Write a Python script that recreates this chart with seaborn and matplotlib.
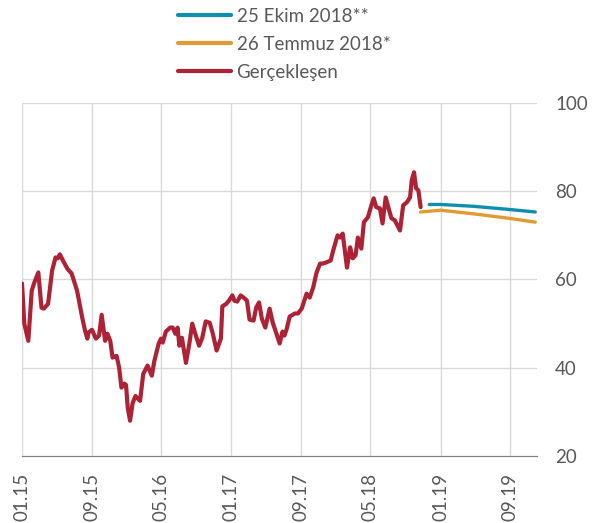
import pandas as pd
import numpy as np
import matplotlib
matplotlib.use('Agg')
import matplotlib.pyplot as plt
import matplotlib.dates as mdates
import seaborn as sns

# Realized (Gerçekleşen)
real_dates = ['2015-01-01', '2015-01-09', '2015-01-23', '2015-02-04', '2015-02-13', '2015-02-27',
              '2015-03-10', '2015-03-18', '2015-04-02', '2015-04-16', '2015-04-28', '2015-05-06',
              '2015-05-13', '2015-05-27', '2015-06-08', '2015-06-14', '2015-06-23', '2015-07-12',
              '2015-07-30', '2015-08-09', '2015-08-17', '2015-08-21', '2015-09-02', '2015-09-16',
              '2015-09-27', '2015-10-06', '2015-10-18', '2015-10-26', '2015-11-05', '2015-11-13',
              '2015-11-27', '2015-12-06', '2015-12-14', '2015-12-24', '2015-12-30', '2016-01-05',
              '2016-01-13', '2016-01-22', '2016-02-01', '2016-02-09', '2016-02-17', '2016-02-28',
              '2016-03-14', '2016-03-29', '2016-04-07', '2016-04-22', '2016-04-30', '2016-05-06',
              '2016-05-17', '2016-06-01', '2016-06-10', '2016-06-19', '2016-06-27', '2016-07-03',
              '2016-07-12', '2016-07-26', '2016-08-07', '2016-08-17', '2016-09-01', '2016-09-10',
              '2016-09-21', '2016-10-03', '2016-10-17', '2016-10-28', '2016-11-10', '2016-11-25',
              '2016-11-30', '2016-12-14', '2016-12-23', '2017-01-04', '2017-01-11', '2017-01-21',
              '2017-02-02', '2017-02-16', '2017-02-24', '2017-03-05', '2017-03-19', '2017-03-28',
              '2017-04-07', '2017-04-17', '2017-04-29', '2017-05-14', '2017-05-25', '2017-06-07',
              '2017-06-18', '2017-06-28', '2017-07-05', '2017-07-13', '2017-07-23', '2017-08-10',
              '2017-08-21', '2017-09-03', '2017-09-20', '2017-10-01', '2017-10-13', '2017-10-25',
              '2017-11-06', '2017-11-15', '2017-11-29', '2017-12-13', '2017-12-22', '2018-01-06',
              '2018-01-15', '2018-01-24', '2018-02-08', '2018-02-19', '2018-02-28', '2018-03-10',
              '2018-03-18', '2018-03-30', '2018-04-08', '2018-04-22', '2018-05-04', '2018-05-12',
              '2018-05-21', '2018-06-03', '2018-06-12', '2018-06-23', '2018-07-05', '2018-07-13',
              '2018-07-25', '2018-08-12', '2018-08-23', '2018-09-05', '2018-09-16', '2018-09-22',
              '2018-09-30', '2018-10-07', '2018-10-15', '2018-10-23']
real_values = [59.1, 50.0, 46.1, 57.5, 59.3, 61.6,
               53.6, 53.4, 54.5, 62.0, 65.0, 64.8,
               65.7, 63.9, 62.5, 62.0, 61.4, 57.5,
               51.4, 48.4, 46.6, 48.0, 48.6, 46.6,
               47.3, 52.0, 46.1, 47.7, 46.1, 42.3,
               42.7, 40.0, 35.5, 36.4, 36.1, 30.9,
               28.0, 32.0, 33.6, 33.0, 32.5, 38.6,
               40.5, 38.2, 41.6, 45.5, 46.6, 45.7,
               48.2, 49.1, 49.1, 47.7, 49.1, 45.0,
               46.8, 41.1, 45.5, 50.0, 46.8, 45.0,
               46.8, 50.5, 50.2, 47.7, 43.9, 46.6,
               53.9, 54.5, 55.2, 56.4, 55.2, 55.0,
               56.4, 55.7, 55.2, 50.9, 50.7, 53.6,
               54.8, 51.1, 49.1, 53.4, 50.2, 47.7,
               45.5, 48.2, 47.3, 48.9, 51.6, 52.3,
               52.3, 53.4, 56.8, 55.9, 58.2, 61.6,
               63.6, 63.6, 63.9, 64.3, 66.6, 70.0,
               69.5, 70.4, 62.7, 67.3, 64.8, 65.5,
               69.5, 67.0, 73.0, 74.1, 76.8, 78.4,
               76.4, 76.1, 72.7, 78.6, 75.7, 73.9,
               73.4, 71.1, 76.8, 77.5, 78.6, 82.5,
               84.3, 80.7, 80.2, 76.4]

# 26 Temmuz 2018* forecast
jul_dates = ['2018-10-23', '2019-01-01', '2019-04-23', '2019-08-24', '2019-11-27']
jul_values = [75.3, 75.7, 74.9, 73.9, 73.0]

# 25 Ekim 2018** forecast
oct_dates = ['2018-11-22', '2019-01-01', '2019-04-23', '2019-08-24', '2019-11-27']
oct_values = [77.0, 77.0, 76.6, 75.9, 75.3]

tick_dates = ['2015-01-01', '2015-09-01', '2016-05-01', '2017-01-01',
              '2017-09-01', '2018-05-01', '2019-01-01', '2019-09-01']
tick_labels = ['01.15', '09.15', '05.16', '01.17', '09.17', '05.18', '01.19', '09.19']

real = pd.DataFrame({'date': pd.to_datetime(real_dates), 'value': real_values})
jul = pd.DataFrame({'date': pd.to_datetime(jul_dates), 'value': jul_values})
octo = pd.DataFrame({'date': pd.to_datetime(oct_dates), 'value': oct_values})

sns.set_style('white')
plt.rcParams['font.family'] = ['Lato', 'DejaVu Sans']

c_blue = '#0f8fae'
c_orange = '#e29a33'
c_red = '#ae2236'
c_text = '#595959'

fig = plt.figure(figsize=(6.05, 5.23), dpi=100)
ax = fig.add_axes([22 / 605, (523 - 456) / 523, (537 - 22) / 605, (456 - 103) / 523])

sns.lineplot(data=octo, x='date', y='value', color=c_blue, linewidth=2.4, label='25 Ekim 2018**', ax=ax)
sns.lineplot(data=jul, x='date', y='value', color=c_orange, linewidth=2.4, label='26 Temmuz 2018*', ax=ax)
sns.lineplot(data=real, x='date', y='value', color=c_red, linewidth=3.0, label='Gerçekleşen', ax=ax)

ax.set_xlim(pd.Timestamp('2015-01-01'), pd.Timestamp('2019-12-03'))
ax.set_ylim(20, 100)
ax.set_yticks([20, 40, 60, 80, 100])
ax.set_xticks(pd.to_datetime(tick_dates))
ax.set_xticklabels(tick_labels, rotation=90)
ax.set_xlabel('')
ax.set_ylabel('')

ax.yaxis.tick_right()
ax.tick_params(axis='y', length=0, pad=13, labelsize=13.5, labelcolor=c_text)
ax.tick_params(axis='x', length=5, width=1, color='#808080', pad=7, labelsize=13.5, labelcolor=c_text)
ax.grid(True, color='#d9d9d9', linewidth=1)
for s in ['top', 'right', 'left']:
    ax.spines[s].set_visible(False)
ax.spines['bottom'].set_color('#808080')

leg = ax.legend(loc='upper left', bbox_to_anchor=(170 / 605, 1.0), bbox_transform=fig.transFigure,
                frameon=False, fontsize=13.5, handlelength=2.85, handletextpad=0.3,
                labelspacing=0.6, borderaxespad=0)
for line in leg.get_lines():
    line.set_linewidth(3.0)
for t in leg.get_texts():
    t.set_color(c_text)

fig.savefig('out.png', dpi=100)
